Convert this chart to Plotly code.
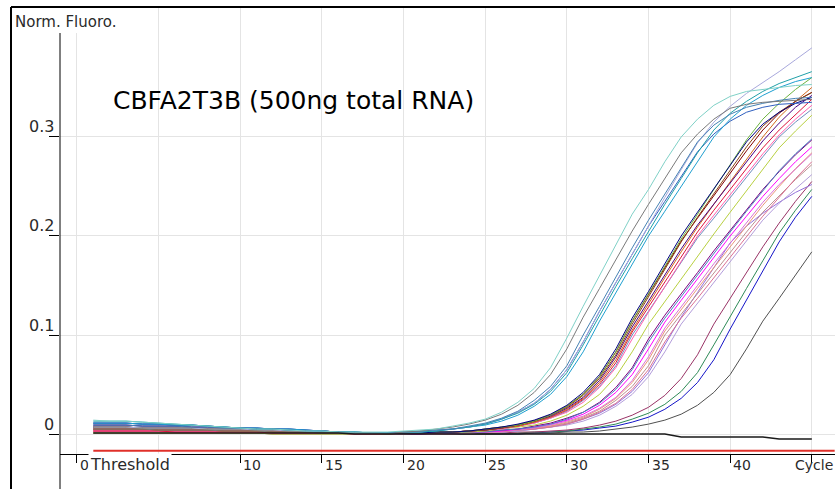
import plotly.graph_objects as go

# ---------------- data ----------------
cycles = list(range(1, 46))

# early group (cyan / grey / blue)
a1 = [0.014,0.013,0.013,0.012,0.011,0.010,0.009,0.008,0.007,0.006,0.005,0.005,0.004,0.003,0.003,0.002,0.002,0.002,0.002,
      0.003,0.004,0.005,0.008,0.011,0.015,0.022,0.032,0.046,0.067,0.097,0.129,0.160,0.191,0.222,0.247,0.275,0.300,0.318,0.332,0.341,0.346,0.348,0.350,0.352,0.353]
a2 = [0.005,0.005,0.005,0.005,0.004,0.004,0.004,0.004,0.003,0.003,0.003,0.002,0.002,0.002,0.001,0.001,0.001,0.001,0.000,
      0.002,0.003,0.005,0.007,0.010,0.014,0.020,0.029,0.042,0.060,0.086,0.118,0.147,0.176,0.205,0.232,0.258,0.284,0.303,0.318,0.329,0.333,0.335,0.336,0.337,0.338]
a3 = [0.009,0.009,0.009,0.008,0.008,0.008,0.007,0.007,0.006,0.006,0.005,0.005,0.004,0.003,0.003,0.002,0.001,0.001,0.001,
      0.002,0.003,0.004,0.005,0.008,0.011,0.016,0.023,0.034,0.048,0.069,0.100,0.129,0.159,0.188,0.216,0.242,0.268,0.295,0.312,0.323,0.330,0.334,0.337,0.339,0.340]
a4 = [0.013,0.013,0.013,0.012,0.011,0.010,0.009,0.008,0.007,0.006,0.005,0.005,0.004,0.003,0.003,0.002,0.002,0.001,0.001,
      0.002,0.002,0.003,0.005,0.007,0.010,0.015,0.021,0.030,0.043,0.062,0.090,0.120,0.149,0.177,0.205,0.232,0.258,0.284,0.307,0.324,0.336,0.346,0.354,0.360,0.366]
a5 = [0.007,0.007,0.007,0.006,0.006,0.006,0.006,0.005,0.005,0.005,0.004,0.004,0.003,0.003,0.002,0.002,0.001,0.001,0.001,
      0.002,0.002,0.004,0.005,0.007,0.010,0.015,0.022,0.031,0.045,0.065,0.093,0.124,0.153,0.182,0.211,0.239,0.267,0.294,0.315,0.331,0.344,0.355,0.366,0.378,0.390]
a6 = [0.011,0.011,0.011,0.010,0.010,0.009,0.009,0.008,0.007,0.006,0.006,0.005,0.005,0.004,0.003,0.002,0.002,0.001,0.001,
      0.002,0.002,0.003,0.005,0.007,0.009,0.013,0.019,0.028,0.040,0.058,0.083,0.114,0.143,0.171,0.200,0.225,0.250,0.275,0.300,0.318,0.332,0.342,0.350,0.356,0.360]
a7 = [0.011,0.011,0.011,0.010,0.010,0.009,0.009,0.008,0.007,0.006,0.006,0.005,0.005,0.004,0.003,0.002,0.002,0.001,0.001,
      0.002,0.002,0.004,0.005,0.007,0.010,0.015,0.022,0.031,0.045,0.065,0.093,0.124,0.153,0.182,0.210,0.235,0.260,0.285,0.303,0.316,0.325,0.330,0.333,0.334,0.335]

# middle group
b1 = [0.011,0.011,0.011,0.010,0.010,0.009,0.009,0.008,0.007,0.006,0.006,0.005,0.005,0.004,0.003,0.002,0.002,0.001,0.001,
      0.001,0.001,0.002,0.002,0.003,0.005,0.007,0.010,0.014,0.020,0.029,0.042,0.060,0.086,0.117,0.144,0.172,0.200,0.224,0.248,0.271,0.295,0.313,0.325,0.334,0.340]
b2 = [0.005,0.005,0.005,0.005,0.004,0.004,0.004,0.004,0.003,0.003,0.003,0.002,0.002,0.002,0.001,0.001,0.001,0.001,0.000,
      0.001,0.001,0.002,0.002,0.003,0.004,0.006,0.009,0.013,0.019,0.027,0.039,0.056,0.080,0.111,0.139,0.167,0.194,0.219,0.243,0.267,0.290,0.311,0.325,0.336,0.345]
b3 = [0.007,0.007,0.007,0.006,0.006,0.006,0.006,0.005,0.005,0.005,0.004,0.004,0.003,0.003,0.002,0.002,0.001,0.001,0.001,
      0.001,0.001,0.002,0.002,0.003,0.005,0.007,0.009,0.013,0.019,0.028,0.040,0.058,0.083,0.114,0.142,0.169,0.197,0.222,0.247,0.272,0.297,0.318,0.334,0.348,0.360]
b4 = [0.009,0.009,0.009,0.008,0.008,0.008,0.007,0.007,0.006,0.006,0.005,0.005,0.004,0.003,0.003,0.002,0.001,0.001,0.001,
      0.001,0.001,0.001,0.002,0.003,0.004,0.006,0.009,0.013,0.018,0.026,0.037,0.054,0.078,0.108,0.134,0.161,0.187,0.211,0.232,0.253,0.274,0.296,0.314,0.330,0.342]
b5 = [0.003,0.003,0.003,0.003,0.003,0.002,0.002,0.002,0.002,0.002,0.002,0.001,0.001,0.001,0.001,0.001,0.000,0.000,0.000,
      0.001,0.001,0.001,0.002,0.003,0.004,0.006,0.008,0.012,0.017,0.024,0.035,0.050,0.072,0.103,0.128,0.154,0.179,0.204,0.226,0.247,0.268,0.289,0.307,0.323,0.338]
b6 = [0.003,0.003,0.003,0.003,0.003,0.002,0.002,0.002,0.002,0.002,0.002,0.001,0.001,0.001,0.001,0.001,0.000,0.000,0.000,
      0.000,0.001,0.001,0.002,0.003,0.004,0.005,0.008,0.011,0.016,0.022,0.032,0.047,0.067,0.096,0.123,0.149,0.174,0.200,0.221,0.242,0.263,0.283,0.302,0.318,0.332]
b7 = [0.005,0.005,0.005,0.005,0.004,0.004,0.004,0.004,0.003,0.003,0.003,0.002,0.002,0.002,0.001,0.001,0.001,0.001,0.000,
      0.000,0.001,0.001,0.002,0.003,0.004,0.005,0.008,0.011,0.016,0.023,0.034,0.048,0.069,0.100,0.124,0.149,0.173,0.198,0.218,0.239,0.259,0.280,0.300,0.315,0.328]
b8 = [0.001,0.001,0.001,0.001,0.001,0.001,0.001,0.001,0.001,0.001,0.001,0.000,0.000,0.000,0.000,0.000,0.000,0.000,0.000,
      0.000,0.001,0.001,0.002,0.002,0.003,0.005,0.007,0.009,0.013,0.019,0.028,0.040,0.058,0.083,0.111,0.134,0.157,0.180,0.202,0.224,0.246,0.268,0.289,0.306,0.322]
b9 = [0.007,0.007,0.007,0.006,0.006,0.006,0.006,0.005,0.005,0.005,0.004,0.004,0.003,0.003,0.002,0.002,0.001,0.001,0.001,
      0.001,0.001,0.002,0.002,0.003,0.005,0.007,0.009,0.013,0.019,0.028,0.040,0.058,0.083,0.114,0.141,0.168,0.195,0.218,0.241,0.264,0.286,0.307,0.324,0.336,0.345]
b10 = [0.005,0.005,0.005,0.005,0.004,0.004,0.004,0.004,0.003,0.003,0.003,0.002,0.002,0.002,0.001,0.001,0.001,0.001,0.000,
       0.001,0.001,0.001,0.002,0.003,0.004,0.006,0.008,0.012,0.017,0.025,0.036,0.052,0.075,0.105,0.132,0.158,0.184,0.209,0.232,0.255,0.277,0.300,0.320,0.336,0.350]

# late group
c1 = [0.007,0.007,0.007,0.006,0.006,0.006,0.006,0.005,0.005,0.005,0.004,0.004,0.003,0.003,0.002,0.002,0.001,0.001,0.001,
      0.000,0.000,0.001,0.001,0.002,0.003,0.004,0.005,0.008,0.011,0.016,0.022,0.032,0.047,0.067,0.096,0.120,0.141,0.163,0.185,0.206,0.227,0.247,0.265,0.282,0.297]
c2 = [0.005,0.005,0.005,0.005,0.004,0.004,0.004,0.004,0.003,0.003,0.003,0.002,0.002,0.002,0.001,0.001,0.001,0.001,0.000,
      0.000,0.000,0.001,0.001,0.002,0.002,0.003,0.005,0.007,0.010,0.014,0.020,0.029,0.042,0.060,0.086,0.113,0.135,0.157,0.178,0.200,0.220,0.240,0.258,0.275,0.290]
c3 = [0.003,0.003,0.003,0.003,0.003,0.002,0.002,0.002,0.002,0.002,0.002,0.001,0.001,0.001,0.001,0.001,0.000,0.000,0.000,
      0.000,0.000,0.000,0.001,0.001,0.002,0.003,0.004,0.006,0.009,0.013,0.018,0.026,0.037,0.054,0.078,0.107,0.128,0.150,0.172,0.193,0.214,0.234,0.252,0.268,0.283]
c4 = [0.009,0.009,0.009,0.008,0.008,0.008,0.007,0.007,0.006,0.006,0.005,0.005,0.004,0.003,0.003,0.002,0.001,0.001,0.001,
      0.000,0.001,0.001,0.001,0.002,0.002,0.004,0.005,0.007,0.010,0.015,0.022,0.031,0.045,0.065,0.093,0.117,0.139,0.161,0.183,0.204,0.225,0.246,0.266,0.283,0.298]
c5 = [0.001,0.001,0.001,0.001,0.001,0.001,0.001,0.001,0.001,0.001,0.001,0.000,0.000,0.000,0.000,0.000,0.000,0.000,0.000,
      0.000,0.000,0.000,0.000,0.001,0.002,0.003,0.004,0.005,0.008,0.011,0.016,0.023,0.034,0.048,0.069,0.100,0.121,0.142,0.163,0.183,0.204,0.224,0.241,0.257,0.272]
c6 = [0.005,0.005,0.005,0.005,0.004,0.004,0.004,0.004,0.003,0.003,0.003,0.002,0.002,0.002,0.001,0.001,0.001,0.001,0.000,
      0.000,0.000,0.000,0.000,0.001,0.002,0.002,0.003,0.005,0.007,0.009,0.013,0.019,0.028,0.040,0.058,0.083,0.111,0.132,0.153,0.174,0.196,0.216,0.233,0.248,0.262]
c7 = [0.003,0.003,0.003,0.003,0.003,0.002,0.002,0.002,0.002,0.002,0.002,0.001,0.001,0.001,0.001,0.001,0.000,0.000,0.000,
      0.000,0.000,0.000,0.000,0.001,0.002,0.002,0.004,0.005,0.007,0.010,0.015,0.022,0.031,0.045,0.065,0.093,0.117,0.137,0.158,0.179,0.200,0.220,0.239,0.258,0.275]
c8 = [0.007,0.007,0.007,0.006,0.006,0.006,0.006,0.005,0.005,0.005,0.004,0.004,0.003,0.003,0.002,0.002,0.001,0.001,0.001,
      0.000,0.000,0.000,0.000,0.001,0.002,0.002,0.003,0.005,0.007,0.010,0.015,0.021,0.030,0.043,0.062,0.090,0.118,0.143,0.168,0.193,0.210,0.223,0.234,0.244,0.252]
c9 = [0.003,0.003,0.003,0.003,0.003,0.002,0.002,0.002,0.002,0.002,0.002,0.001,0.001,0.001,0.001,0.001,0.000,0.000,0.000,
      0.000,0.000,0.000,0.001,0.001,0.002,0.003,0.004,0.006,0.008,0.012,0.017,0.025,0.036,0.052,0.075,0.104,0.126,0.147,0.168,0.189,0.211,0.231,0.250,0.268,0.284]

# latest group
d1 = [0.005,0.005,0.005,0.005,0.004,0.004,0.004,0.004,0.003,0.003,0.003,0.002,0.002,0.002,0.001,0.001,0.001,0.001,0.000,
      0.000,0.000,0.000,0.000,0.000,0.000,0.001,0.002,0.002,0.003,0.004,0.006,0.009,0.013,0.019,0.027,0.039,0.056,0.080,0.111,0.137,0.163,0.189,0.213,0.235,0.255]
d2 = [0.003,0.003,0.003,0.003,0.003,0.002,0.002,0.002,0.002,0.002,0.002,0.001,0.001,0.001,0.001,0.001,0.000,0.000,0.000,
      0.000,0.000,0.000,0.000,0.000,0.000,0.000,0.001,0.002,0.002,0.003,0.005,0.007,0.010,0.015,0.021,0.030,0.043,0.062,0.090,0.119,0.147,0.175,0.203,0.226,0.247]
d3 = [0.007,0.007,0.007,0.006,0.006,0.006,0.006,0.005,0.005,0.005,0.004,0.004,0.003,0.003,0.002,0.002,0.001,0.001,0.001,
      0.000,0.000,0.000,0.000,0.000,0.000,0.000,0.000,0.001,0.002,0.003,0.004,0.006,0.008,0.012,0.017,0.025,0.036,0.052,0.075,0.106,0.135,0.165,0.194,0.219,0.240]
e1 = [0.001,0.001,0.001,0.001,0.001,0.001,0.001,0.001,0.001,0.001,0.001,0.000,0.000,0.000,0.000,0.000,0.000,0.000,0.000,
      0.000,0.000,0.000,0.000,0.000,0.000,0.000,0.000,0.001,0.001,0.002,0.002,0.003,0.005,0.007,0.010,0.014,0.020,0.029,0.042,0.060,0.086,0.114,0.137,0.160,0.184]

# negative control (flat)
nc = [0.001,0.001,0.001,0.001,0.001,0.001,0.001,0.001,0.001,0.001,0.001,0.001,0.001,0.001,0.001,0.001,
      0.000,0.000,0.000,0.000,0.000,0.000,0.000,0.000,0.000,0.000,0.000,0.000,0.000,0.000,0.000,0.000,0.000,0.000,0.000,0.000,
      -0.003,-0.003,-0.003,-0.003,-0.003,-0.003,-0.005,-0.005,-0.005]

threshold_value = -0.017
threshold_cycles = [1, 46.4]

y_tick_vals = [0, 0.1, 0.2, 0.3]
y_tick_text = ["0", "0.1", "0.2", "0.3"]
x_label_vals = [0, 10, 15, 20, 25, 30, 35, 40, 45]
x_label_text = ["0", "10", "15", "20", "25", "30", "35", "40", "Cycle"]

# ---------------- styling ----------------
series = [
    (d3, "#1414c8"), (d2, "#2e8b57"), (d1, "#993366"), (e1, "#505050"),
    (c8, "#9370db"), (c6, "#b39ddb"), (c5, "#bc8f8f"), (c7, "#db7093"), (c9, "#e9967a"),
    (c3, "#da70d6"), (c2, "#ff00ff"), (c1, "#800080"), (c4, "#4a7fc1"),
    (b8, "#b8d040"), (b7, "#6f8fbf"), (b6, "#ff5fae"), (b5, "#dc143c"), (b10, "#d2691e"),
    (b9, "#800000"), (b4, "#4b0082"), (b2, "#8b4513"), (b3, "#6cb33f"), (b1, "#000080"),
    (a7, "#2f5fbf"), (a6, "#1e9fd0"), (a5, "#a8a8dc"), (a4, "#20a0a8"), (a3, "#4682b4"),
    (a2, "#7a7a7a"), (a1, "#7fd1c7"),
]

fig = go.Figure()
for ys, col in series:
    assert len(ys) == len(cycles)
    fig.add_trace(go.Scatter(x=cycles, y=ys, mode="lines",
                             line=dict(color=col, width=1),
                             hoverinfo="skip", showlegend=False))
assert len(nc) == len(cycles)
fig.add_trace(go.Scatter(x=cycles, y=nc, mode="lines",
                         line=dict(color="#1a1a1a", width=1.5),
                         hoverinfo="skip", showlegend=False))
fig.add_trace(go.Scatter(x=threshold_cycles, y=[threshold_value, threshold_value], mode="lines",
                         line=dict(color="#e0302a", width=2),
                         hoverinfo="skip", showlegend=False))

W, H = 835, 489
L, R, T, B = 60, 0, 7, 35
pw, ph = W - L - R, H - T - B

def px(xp):
    return (xp - L) / pw

def py(yp):
    return (H - B - yp) / ph

FONT = "DejaVu Sans"
ann = []
for v, t in zip(y_tick_vals, y_tick_text):
    ann.append(dict(x=0, xref="paper", y=v, yref="y", text=t, showarrow=False,
                    xanchor="right", yanchor="middle", xshift=-4, yshift=10,
                    font=dict(family=FONT, size=16, color="#2a2a2a")))
for v, t in zip(x_label_vals, x_label_text):
    ann.append(dict(x=v, xref="x", y=0, yref="paper", text=t, showarrow=False,
                    xanchor="left", yanchor="top", xshift=(-19 if t == "Cycle" else 1), yshift=-1,
                    font=dict(family=FONT, size=14, color="#2a2a2a")))
ann.append(dict(x=1, xref="x", y=0, yref="paper", text="Threshold", showarrow=False,
                xanchor="left", yanchor="top", xshift=-5, yshift=1, bgcolor="white", borderpad=1,
                font=dict(family=FONT, size=16, color="#2a2a2a")))
ann.append(dict(x=px(13), xref="paper", y=py(22), yref="paper", text="Norm. Fluoro.", showarrow=False,
                xanchor="left", yanchor="middle",
                font=dict(family=FONT, size=15, color="#2a2a2a")))
ann.append(dict(x=px(111), xref="paper", y=py(101), yref="paper", text="CBFA2T3B (500ng total RNA)",
                showarrow=False, xanchor="left", yanchor="middle",
                font=dict(family=FONT, size=25, color="#000000")))

shapes = [
    dict(type="rect", xref="paper", yref="paper", x0=px(11), x1=px(125), y0=py(33), y1=1,
         fillcolor="white", line=dict(width=0), layer="above"),
    dict(type="line", xref="paper", yref="paper", x0=0, x1=0, y0=py(H + 2), y1=py(33),
         line=dict(color="#000000", width=1), layer="above"),
    dict(type="line", xref="paper", yref="paper", x0=px(11), x1=px(11), y0=py(H + 2), y1=1,
         line=dict(color="#000000", width=2), layer="above"),
    dict(type="line", xref="paper", yref="paper", x0=px(11), x1=1.01, y0=1, y1=1,
         line=dict(color="#000000", width=2), layer="above"),
]

fig.update_layout(
    width=W, height=H,
    margin=dict(l=L, r=R, t=T, b=B, pad=0),
    paper_bgcolor="white", plot_bgcolor="white",
    showlegend=False,
    annotations=ann, shapes=shapes,
    xaxis=dict(range=[-1.04, 46.42], tick0=0, dtick=5, showgrid=True, gridcolor="#e4e4e4", gridwidth=1,
               zeroline=False, showline=True, linecolor="#000000", linewidth=1,
               ticks="outside", ticklen=8, tickcolor="#000000", tickwidth=1,
               showticklabels=False),
    yaxis=dict(range=[-0.0202, 0.4313], tickvals=y_tick_vals, showgrid=True, gridcolor="#e4e4e4", gridwidth=1,
               zeroline=False, showline=False,
               ticks="outside", ticklen=10, tickcolor="#000000", tickwidth=1,
               showticklabels=False),
)

fig.write_html("out.html", config={"displayModeBar": False},
               post_script="document.body.style.margin='0';document.body.style.padding='0';document.body.style.overflow='hidden';")
